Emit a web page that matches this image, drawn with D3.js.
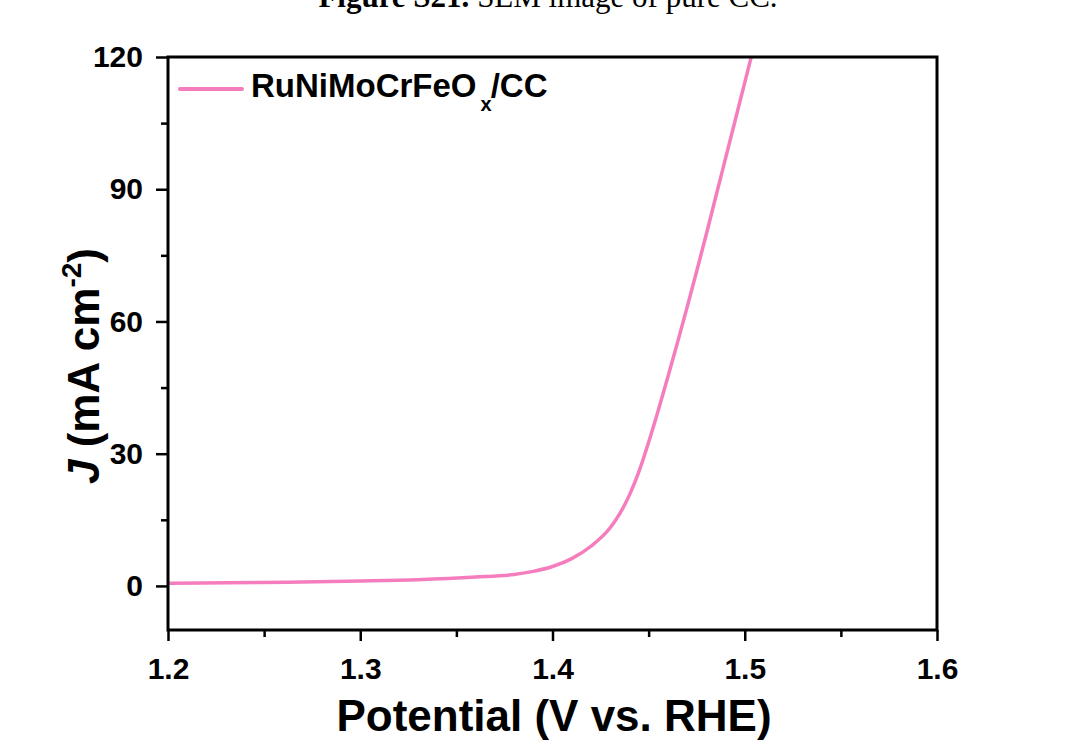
<!DOCTYPE html>
<html>
<head>
<meta charset="utf-8">
<script src="https://cdn.jsdelivr.net/npm/d3@7"></script>
<style>
  html, body { margin: 0; padding: 0; background: #fff; }
  svg { display: block; }
  text { font-family: "Liberation Sans", Arial, sans-serif; font-weight: bold; fill: #000; }
</style>
</head>
<body>
<svg id="chart" width="1077" height="756"></svg>
<script>
// ---- data ----
const potential = [1.200, 1.250, 1.300, 1.330, 1.360, 1.380, 1.390, 1.400, 1.410, 1.420, 1.430, 1.435, 1.440, 1.445, 1.450, 1.455, 1.460, 1.465, 1.470, 1.475, 1.480, 1.485, 1.490, 1.495, 1.500, 1.5035];
const current   = [0.6,   0.8,   1.1,   1.4,   2.0,   2.6,   3.3,   4.4,   6.2,   9.0,   13.2,  16.4,  20.6,  26.0,  32.6,  39.8,  47.4,  55.2,  63.2,  71.4,  79.8,  88.4,  97.0,  105.6, 114.2, 120.2];
const xTicks = [1.2, 1.3, 1.4, 1.5, 1.6];
const xMinorTicks = [1.25, 1.35, 1.45, 1.55];
const yTicks = [0, 30, 60, 90, 120];
const yMinorTicks = [15, 45, 75, 105];
const seriesName = "RuNiMoCrFeO";
const seriesSub = "x";
const seriesSuffix = "/CC";
const captionBold = "Figure S21.";
const captionRest = " SEM image of pure CC.";

(function () {
const svg = d3.select("#chart");
const pL = 168, pR = 937, pT = 57, pB = 630;
const x = d3.scaleLinear().domain([1.2, 1.6]).range([pL, pR]);
const y = d3.scaleLinear().domain([-10, 120]).range([pB, pT]);
const pink = "#F57DBE";

// caption (cut off at top, as in the reference)
const cap = svg.append("text").attr("x", 548).attr("y", 7).attr("text-anchor", "middle")
  .style("font-family", "'Liberation Serif', 'Times New Roman', serif").style("font-size", "31px");
cap.append("tspan").style("font-weight", "bold").text(captionBold);
cap.append("tspan").style("font-weight", "normal").text(captionRest);

// axes
function styleAxis(g) {
  g.select(".domain").remove();
  g.selectAll(".tick line").attr("stroke", "#000").attr("stroke-width", 2.5);
  g.selectAll("text").style("font-size", "30px").style("font-family", "'Liberation Sans', Arial, sans-serif").style("font-weight", "bold").attr("fill", "#000");
}
svg.append("g").attr("transform", `translate(0,${pB})`)
  .call(d3.axisBottom(x).tickValues(xTicks).tickFormat(d3.format(".1f")).tickSize(11).tickPadding(17))
  .call(styleAxis);
svg.append("g").attr("transform", `translate(0,${pB})`)
  .call(d3.axisBottom(x).tickValues(xMinorTicks).tickFormat("").tickSize(7))
  .call(styleAxis);
svg.append("g").attr("transform", `translate(${pL},0)`)
  .call(d3.axisLeft(y).tickValues(yTicks).tickFormat(d3.format("d")).tickSize(12).tickPadding(13))
  .call(styleAxis);
svg.append("g").attr("transform", `translate(${pL},0)`)
  .call(d3.axisLeft(y).tickValues(yMinorTicks).tickFormat("").tickSize(7))
  .call(styleAxis);

// clip
svg.append("clipPath").attr("id", "plotclip").append("rect")
  .attr("x", pL).attr("y", pT).attr("width", pR - pL).attr("height", pB - pT);

// curve
const pts = potential.map((v, i) => [v, current[i]]);
svg.append("path").datum(pts)
  .attr("clip-path", "url(#plotclip)")
  .attr("fill", "none").attr("stroke", pink).attr("stroke-width", 3.5)
  .attr("stroke-linejoin", "round").attr("stroke-linecap", "round")
  .attr("d", d3.line().x(d => x(d[0])).y(d => y(d[1])).curve(d3.curveMonotoneX));

// frame
svg.append("rect").attr("x", pL).attr("y", pT).attr("width", pR - pL).attr("height", pB - pT)
  .attr("fill", "none").attr("stroke", "#000").attr("stroke-width", 3);

// legend
svg.append("line").attr("x1", 180).attr("x2", 242).attr("y1", 89).attr("y2", 89)
  .attr("stroke", pink).attr("stroke-width", 4).attr("stroke-linecap", "round");
const lg = svg.append("text").attr("x", 251).attr("y", 97).style("font-size", "33px");
lg.append("tspan").text(seriesName);
lg.append("tspan").attr("dx", 4).attr("dy", 14).style("font-size", "20px").text(seriesSub);
lg.append("tspan").attr("dx", -1).attr("dy", -14).text(seriesSuffix);

// axis titles
svg.append("text").attr("x", 554).attr("y", 731).attr("text-anchor", "middle")
  .style("font-size", "44px").text("Potential (V vs. RHE)");

const yt = svg.append("text").attr("transform", "translate(99,366) rotate(-90)")
  .attr("text-anchor", "middle").style("font-size", "44px");
yt.append("tspan").style("font-style", "italic").text("J");
yt.append("tspan").text(" (mA cm");
yt.append("tspan").attr("dy", -18).style("font-size", "28px").text("-2");
yt.append("tspan").attr("dy", 18).text(")");
})();
</script>
</body>
</html>
